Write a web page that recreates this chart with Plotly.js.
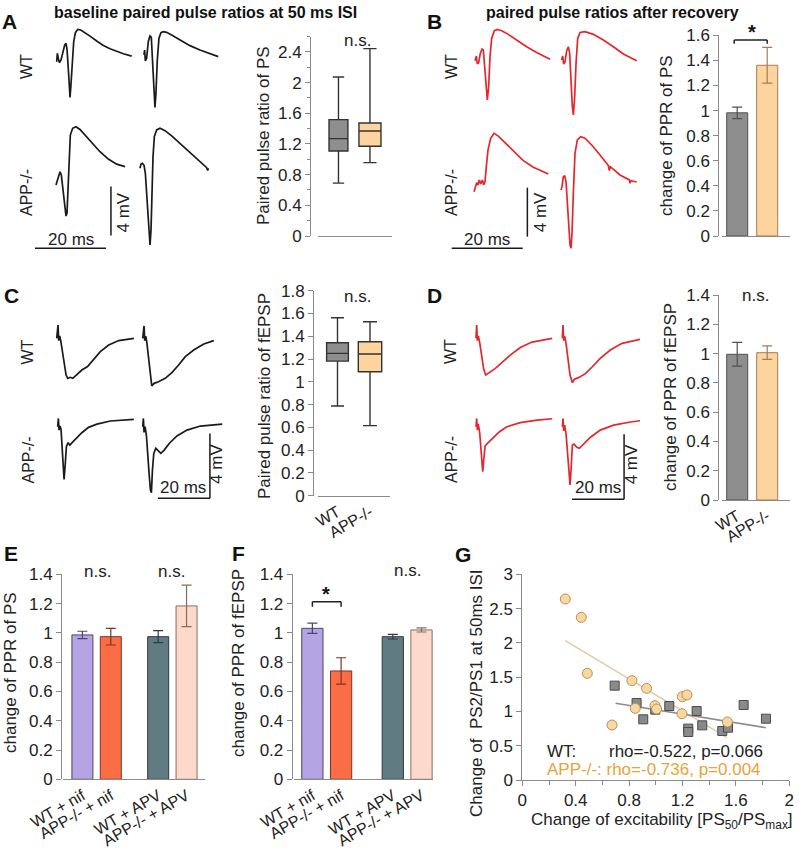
<!DOCTYPE html>
<html>
<head>
<meta charset="utf-8">
<script src="https://cdn.plot.ly/plotly-3.0.1.min.js"></script>
<style>
  body { margin: 0; background: #fff; }
  #fig { width: 799px; height: 853px; }
</style>
</head>
<body>
<div id="fig"></div>
<script>
// ---------- example sweeps (time in ms, voltage in mV from sweep start) ----------
// A: population spikes, baseline (black)
const aWt1T = [0,0.19,0.47,0.75,1.22,1.69,2.25,2.63,2.91,3.29,3.57,3.76,4.04,4.41,4.79,5.26,5.92,6.76,7.98,9.39,11.27,13.15,15.02,16.9,18.78,21.13];
const aWt1V = [0,0.68,0.27,-0.08,0.14,0.82,1.36,1.5,1.01,-0.68,-2.31,-2.91,-1.77,0.14,1.63,2.37,2.64,2.59,2.39,2.09,1.69,1.33,1.06,0.84,0.65,0.46];
const aWt2T = [0,0.19,0.38,0.75,1.22,1.69,2.07,2.44,2.82,3.1,3.38,3.76,4.23,4.79,5.45,6.38,7.79,10.14,12.96,15.77,18.59,20.94];
const aWt2V = [0.14,0.54,-0.33,-0.14,1.22,1.69,1.58,-0.54,-3.27,-4.14,-3.0,-0.27,1.5,1.96,2.04,1.99,1.77,1.36,0.9,0.54,0.22,0];
const aApp1T = [0,0.38,0.75,1.13,1.5,1.88,2.35,2.82,3.1,3.38,3.66,4.04,4.69,5.63,6.76,8.17,10.05,12.39,14.74,17.09,19.44];
const aApp1V = [0,0.41,0.9,1.09,0.82,-0.14,-1.5,-2.53,-2.31,-0.14,2.59,4.08,4.63,4.76,4.54,4.08,3.45,2.72,2.12,1.71,1.5];
const aApp2T = [0,0.28,0.66,1.13,1.5,1.88,2.25,2.63,2.82,3.1,3.38,3.66,4.04,4.69,5.63,7.04,8.92,11.27,14.08,16.9,18.78,19.06,19.25];
const aApp2V = [0,0.35,0.41,0.24,-0.41,-2.04,-4.22,-5.85,-6.26,-5.03,-2.04,0.95,2.59,3.13,3.27,3.07,2.64,2.04,1.28,0.54,0.05,-0.19,0];

// B: population spikes after recovery (red)
const bWt1T = [0,0.38,0.66,1.03,1.5,1.97,2.35,2.72,3.1,3.47,3.85,4.23,4.69,5.45,6.29,7.51,9.39,11.74,14.55,17.37,21.13];
const bWt1V = [0.08,0.46,-0.19,-0.08,0.68,1.03,0.95,-0.41,-2.04,-3.13,-2.04,0.41,1.9,2.53,2.64,2.53,2.23,1.77,1.22,0.76,0.19];
const bWt2T = [0,0.28,0.56,0.94,1.41,1.88,2.25,2.63,3.0,3.29,3.66,4.04,4.51,5.16,6.57,8.92,11.74,14.55,17.37,21.13];
const bWt2V = [0.14,0.46,-0.19,0,0.9,1.22,0.68,-1.77,-3.67,-4.35,-2.86,-0.14,1.9,2.39,2.45,2.23,1.77,1.22,0.63,0.08];
const bApp1T = [0,0.38,0.75,1.13,1.5,1.88,2.35,2.72,3.1,3.47,3.94,4.69,5.63,6.85,8.73,11.08,13.9,16.71,20.94];
const bApp1V = [0,0.41,0.73,0.54,0.95,0.63,0.95,0.54,0.82,2.04,3.4,4.35,4.76,4.54,4.0,3.27,2.53,1.99,1.44];
const bApp2T = [0,0.28,0.66,1.03,1.41,1.78,2.16,2.54,2.82,3.1,3.47,3.94,4.6,5.54,6.76,8.64,10.99,13.33,13.62,13.9,16.62,19.25,19.44,19.62,21.31];
const bApp2V = [0,0.27,1.09,1.14,0.68,-0.82,-2.99,-4.49,-4.76,-3.54,-0.27,2.99,4.08,4.35,4.22,3.67,2.86,1.99,1.58,1.9,1.22,0.82,0.54,0.76,0.65];

// C: fEPSPs, baseline (black)
const cWt1T = [0,0.26,0.52,0.77,1.16,1.55,2.19,2.97,3.61,4.26,5.16,6.19,7.48,9.68,11.87,14.19,16.77,20.0,23.87,29.68];
const cWt1V = [0,0.72,0.82,-0.14,0.14,-0.14,-0.72,-1.64,-2.26,-2.46,-2.4,-2.46,-2.26,-1.95,-1.74,-1.29,-0.82,-0.41,-0.14,0];
const cWt2T = [0,0.26,0.52,0.77,1.16,1.55,2.19,2.84,3.48,4.39,6.06,8.65,11.23,13.81,16.39,19.61,23.48,27.35];
const cWt2V = [0,0.72,0.76,-0.14,0.14,-0.21,-1.23,-2.36,-2.93,-2.77,-2.67,-2.46,-2.11,-1.64,-1.13,-0.72,-0.35,-0.14];
const cApp1T = [0,0.26,0.52,0.9,1.29,1.68,2.06,2.45,2.84,3.35,4.0,4.65,5.55,7.1,9.29,11.87,15.1,20.26,29.29];
const cApp1V = [0,0.51,-0.21,0.04,-0.16,-1.23,-2.46,-3.24,-2.46,-1.23,-0.98,-1.13,-0.98,-0.72,-0.37,-0.04,0.16,0.35,0.45];
const cApp2T = [0,0.26,0.52,0.9,1.42,1.94,2.45,2.97,3.35,3.74,4.26,5.03,5.94,6.97,8.26,10.19,13.16,17.03,22.19,30.58];
const cApp2V = [0,0.51,-0.35,0,-0.51,-1.44,-2.87,-3.9,-4.06,-2.67,-1.64,-1.33,-1.48,-1.64,-1.44,-1.03,-0.57,-0.21,0.04,0.16];

// D: fEPSPs after recovery (red)
const dWt1T = [0,0.26,0.52,0.9,1.42,2.19,2.97,3.74,4.39,5.42,7.35,9.94,13.16,17.03,21.55,29.29];
const dWt1V = [0,0.82,-0.14,0.14,-0.27,-1.09,-1.91,-2.26,-2.19,-2.11,-1.87,-1.5,-1.03,-0.57,-0.23,0];
const dWt2T = [0,0.26,0.52,0.9,1.42,2.19,2.97,3.87,4.65,6.19,8.77,11.35,14.58,18.45,22.97,30.06];
const dWt2V = [0,0.82,-0.14,0.14,-0.31,-1.29,-2.26,-2.73,-2.52,-2.42,-2.19,-1.78,-1.23,-0.72,-0.31,-0.06];
const dApp1T = [0,0.26,0.52,0.9,1.42,1.81,2.19,2.58,2.97,3.48,4.39,5.42,6.97,9.03,11.87,17.03,23.48,29.29];
const dApp1V = [0,0.51,-0.21,0.16,-0.37,-1.23,-2.36,-2.77,-2.05,-1.19,-1.03,-0.88,-0.62,-0.31,0,0.25,0.41,0.49];
const dApp2T = [0,0.26,0.52,0.9,1.42,1.94,2.45,2.97,3.35,3.87,4.52,5.55,6.58,8.13,10.71,14.58,19.74,26.19,30.06];
const dApp2V = [0,0.51,-0.25,0.1,-0.41,-1.64,-2.97,-3.59,-2.67,-1.13,-1.07,-1.27,-1.33,-1.07,-0.66,-0.21,0.1,0.29,0.37];

// scale bars
const scaleMs = 20;
const scaleMv = 4;

// ---------- summary data ----------
const genotypes = ['WT', 'APP-/-'];

// A: paired pulse ratio of PS (box stats)
const psLow = [0.69, 0.957];
const psQ1 = [1.109, 1.17];
const psMed = [1.27, 1.37];
const psQ3 = [1.517, 1.474];
const psHigh = [2.074, 2.443];

// B: change of PPR of PS
const psChange = [0.982, 1.361];
const psChangeErr = [0.046, 0.142];

// C: paired pulse ratio of fEPSP (box stats)
const epLow = [0.787, 0.615];
const epQ1 = [1.182, 1.089];
const epMed = [1.25, 1.244];
const epQ3 = [1.343, 1.352];
const epHigh = [1.563, 1.528];

// D: change of PPR of fEPSP
const epChange = [0.995, 1.006];
const epChangeErr = [0.081, 0.046];

// E / F: drug groups
const drugGroups = ['WT + nif', 'APP-/- + nif', 'WT + APV', 'APP-/- + APV'];
const drugPs = [0.986, 0.974, 0.974, 1.184];
const drugPsErr = [0.025, 0.057, 0.041, 0.142];
const drugEp = [1.031, 0.74, 0.974, 1.02];
const drugEpErr = [0.035, 0.09, 0.016, 0.014];

// G: correlation
const wtExc = [0.692, 0.856, 0.906, 0.996, 1.101, 1.243, 1.243, 1.306, 1.348, 1.498, 1.541, 1.658, 1.825];
const wtPpr = [1.376, 1.123, 0.885, 1.026, 1.079, 0.749, 0.70, 1.006, 0.797, 0.715, 0.763, 1.094, 0.894];
const appExc = [0.322, 0.442, 0.487, 0.672, 0.821, 0.846, 0.931, 0.994, 1.006, 1.199, 1.196, 1.233, 1.536];
const appPpr = [2.64, 2.372, 1.556, 0.802, 1.449, 1.045, 1.337, 1.084, 1.035, 1.215, 0.967, 1.24, 0.846];
const wtFitX = [0.699, 1.825];
const wtFitY = [1.118, 0.763];
const appFitX = [0.322, 1.533];
const appFitY = [2.032, 0.617];

// ---------- helpers ----------
const W = 799, H = 853;
const fx = px => px / W;
const fy = py => 1 - py / H;
const FONT = 'Liberation Sans, Arial, sans-serif';
const AXC = '#8a8a8a';
const BLACK = '#1a1a1a';
const RED = '#e3272d';

const layout = {
    width: W, height: H,
    margin: { l: 0, r: 0, t: 0, b: 0 },
    paper_bgcolor: '#fff', plot_bgcolor: 'rgba(0,0,0,0)',
    showlegend: false, hovermode: false,
    barmode: 'overlay',
    font: { family: FONT, size: 17, color: '#222' },
    shapes: [], annotations: []
};
const traces = [];

function hiddenAxes(n, left, right, top, bottom, xMax, yMax) {
    layout['xaxis' + n] = { domain: [fx(left), fx(right)], range: [0, xMax], visible: false, fixedrange: true, anchor: 'y' + n };
    layout['yaxis' + n] = { domain: [fy(bottom), fy(top)], range: [0, yMax], visible: false, fixedrange: true, anchor: 'x' + n };
}

function valueAxis(n, top, bottom, xPos, max, dtick, minor) {
    const ax = {
        domain: [fy(bottom), fy(top)], range: [0, max], anchor: 'free', position: fx(xPos),
        showline: true, linecolor: AXC, linewidth: 1, ticks: 'outside', ticklen: 5, tickcolor: AXC,
        dtick: dtick, tick0: 0, showgrid: false, zeroline: false, fixedrange: true,
        tickfont: { size: 17, color: '#222' }
    };
    if (minor) ax.minor = { dtick: minor, ticks: 'outside', ticklen: 3, tickcolor: AXC, showgrid: false };
    layout['yaxis' + n] = ax;
}

function groupAxis(n, left, right, range, extra) {
    layout['xaxis' + n] = Object.assign({
        domain: [fx(left), fx(right)], range: range, anchor: 'y' + n,
        showline: true, linecolor: AXC, linewidth: 1, ticks: '', showgrid: false, zeroline: false,
        fixedrange: true, tickangle: -30, tickfont: { size: 16, color: '#222' }
    }, extra);
}

function sweep(t, v, off, color, n) {
    traces.push({
        x: t.map(d => d + off[0]), y: v.map(d => d + off[1]),
        mode: 'lines', line: { color: color, width: 1.7 },
        xaxis: 'x' + n, yaxis: 'y' + n, hoverinfo: 'skip'
    });
}

function scaleBars(n, tx, vy, hx, hy, color, msLab, mvLab) {
    const ref = { xref: 'x' + n, yref: 'y' + n };
    const txt = { showarrow: false, xanchor: 'center', yanchor: 'middle', font: { size: 17 } };
    layout.shapes.push(Object.assign({ type: 'line', x0: tx, x1: tx, y0: vy, y1: vy + scaleMv, line: { color: color, width: 1.5 } }, ref));
    layout.shapes.push(Object.assign({ type: 'line', x0: hx, x1: hx + scaleMs, y0: hy, y1: hy, line: { color: color, width: 1.5 } }, ref));
    layout.annotations.push(Object.assign({ text: scaleMs + ' ms', x: msLab[0], y: msLab[1] }, ref, txt));
    layout.annotations.push(Object.assign({ text: scaleMv + ' mV', x: mvLab[0], y: mvLab[1], textangle: -90 }, ref, txt));
}

function note(text, xpx, ypx, opts) {
    layout.annotations.push(Object.assign({
        text: text, x: fx(xpx), y: fy(ypx), xref: 'paper', yref: 'paper',
        xanchor: 'center', yanchor: 'middle',
        showarrow: false, font: { size: 17, color: '#222' }
    }, opts || {}));
}

function boxes(n, stats, widths, fills) {
    genotypes.forEach((g, i) => {
        traces.push({
            type: 'box', x: [g], q1: [stats.q1[i]], median: [stats.med[i]], q3: [stats.q3[i]],
            lowerfence: [stats.lo[i]], upperfence: [stats.hi[i]],
            width: widths[i], whiskerwidth: 0.6, boxpoints: false,
            fillcolor: fills[i], line: { color: '#333', width: 1.4 },
            xaxis: 'x' + n, yaxis: 'y' + n, hoverinfo: 'skip'
        });
    });
}

function bars(n, xs, vals, errs, fills, edges, width) {
    vals.forEach((v, i) => {
        traces.push({
            type: 'bar', x: [xs[i]], y: [v], width: width,
            marker: { color: fills[i], line: { color: edges[i], width: 1 } },
            error_y: { type: 'data', array: [errs[i]], color: edges[i], thickness: 1.2, width: 5 },
            xaxis: 'x' + n, yaxis: 'y' + n, hoverinfo: 'skip'
        });
    });
}

// significance bracket: horizontal line with two short legs
function bracket(n, x0, x1, y, drop) {
    const ref = { type: 'line', xref: 'x' + n, yref: 'y' + n, line: { color: '#222', width: 1.5 } };
    layout.shapes.push(Object.assign({ x0: x0, x1: x1, y0: y, y1: y }, ref));
    layout.shapes.push(Object.assign({ x0: x0, x1: x0, y0: y - drop, y1: y }, ref));
    layout.shapes.push(Object.assign({ x0: x1, x1: x1, y0: y - drop, y1: y }, ref));
}

const boxFills = ['#8e8e8e', '#fdd49e'];
const barFills = ['#8e8e8e', '#fdd49e'];
const barEdges = ['#505050', '#a07d58'];
const drugFills = ['#b4a4e4', '#fb6e45', '#617b82', '#fdd9cc'];
const drugEdges = ['#4d4470', '#7a3424', '#2f3b3e', '#8a6a60'];

// ---------- A ----------
hiddenAxes(1, 30, 230, 25, 255, 200 / 3.55, 230 / 12.25);
sweep(aWt1T, aWt1V, [7.52, 15.78], BLACK, 1);
sweep(aWt2T, aWt2V, [32.1, 16.19], BLACK, 1);
sweep(aApp1T, aApp1V, [7.32, 5.71], BLACK, 1);
sweep(aApp2T, aApp2V, [30.99, 7.08], BLACK, 1);
scaleBars(1, 22.8, 1.6, 1.4, 0.55, BLACK, [11.5, 1.3], [26.3, 3.5]);

valueAxis(2, 36.6, 236, 310, 2.6, 0.4, 0.2);
groupAxis(2, 318, 392, [-0.65, 1.7], { type: 'category', categoryarray: genotypes, showticklabels: false });
boxes(2, { lo: psLow, q1: psQ1, med: psMed, q3: psQ3, hi: psHigh }, [0.6, 0.7], boxFills);

// ---------- B ----------
hiddenAxes(3, 445, 645, 25, 255, 200 / 3.55, 230 / 12.25);
sweep(bWt1T, bWt1V, [8.45, 15.78], RED, 3);
sweep(bWt2T, bWt2V, [32.87, 15.78], RED, 3);
sweep(bApp1T, bApp1V, [8.17, 5.17], RED, 3);
sweep(bApp2T, bApp2V, [32.68, 5.31], RED, 3);
scaleBars(3, 23.2, 1.5, 1.9, 0.55, BLACK, [11.9, 1.25], [26.8, 3.5]);

valueAxis(4, 35.3, 236, 718.3, 1.6, 0.2);
groupAxis(4, 722, 790, [-0.507, 1.76], { type: 'category', categoryarray: genotypes, showticklabels: false });
bars(4, genotypes, psChange, psChangeErr, barFills, barEdges, 0.7);
bracket(4, -0.1, 1.0, 1.563, 0.03);

// ---------- C ----------
hiddenAxes(5, 30, 230, 290, 500, 200 / 2.6, 210 / 16.25);
sweep(cWt1T, cWt1V, [10.27, 9.95], BLACK, 5);
sweep(cWt2T, cWt2V, [43.35, 9.95], BLACK, 5);
sweep(cApp1T, cApp1V, [10.65, 4.51], BLACK, 5);
sweep(cApp2T, cApp2V, [43.35, 4.51], BLACK, 5);
scaleBars(5, 69.2, 0.1, 49.2, 0.1, BLACK, [58.7, 0.8], [71.8, 2.2]);

valueAxis(6, 290.7, 495.7, 313, 1.8, 0.2);
groupAxis(6, 318, 390, [-0.6, 1.615], { type: 'category', categoryarray: genotypes });
boxes(6, { lo: epLow, q1: epQ1, med: epMed, q3: epQ3, hi: epHigh }, [0.67, 0.72], boxFills);

// ---------- D ----------
hiddenAxes(7, 440, 640, 290, 500, 200 / 2.6, 210 / 16.25);
sweep(dWt1T, dWt1V, [13.85, 9.95], RED, 7);
sweep(dWt2T, dWt2V, [47.05, 9.95], RED, 7);
sweep(dApp1T, dApp1V, [13.85, 4.51], RED, 7);
sweep(dApp2T, dApp2V, [47.05, 4.51], RED, 7);
scaleBars(7, 70.8, 0.05, 50.8, 0.05, BLACK, [60.9, 0.8], [73.5, 2.2]);

valueAxis(8, 295, 500, 718.3, 1.4, 0.2);
groupAxis(8, 722, 790, [-0.507, 1.76], { type: 'category', categoryarray: genotypes });
bars(8, genotypes, epChange, epChangeErr, barFills, barEdges, 0.7);

// ---------- E ----------
const ePos = [0, 1, 2.67, 3.67];
valueAxis(9, 574.3, 779.3, 61, 1.4, 0.2);
groupAxis(9, 63, 205, [-0.684, 4.32], { tickvals: ePos, ticktext: drugGroups });
bars(9, ePos, drugPs, drugPsErr, drugFills, drugEdges, 0.74);

// ---------- F ----------
const fPos = [0, 1, 2.8, 3.8];
valueAxis(10, 574.3, 779.3, 291.7, 1.4, 0.2);
groupAxis(10, 294, 433, [-0.64, 4.2], { tickvals: fPos, ticktext: drugGroups });
bars(10, fPos, drugEp, drugEpErr, drugFills, drugEdges, 0.74);
bracket(10, 0, 1, 1.213, 0.035);

// ---------- G ----------
layout.xaxis11 = {
    domain: [fx(522.3), fx(789.3)], range: [0, 2], anchor: 'y11',
    showline: true, linecolor: AXC, ticks: 'outside', ticklen: 5, tickcolor: AXC,
    dtick: 0.4, tick0: 0, minor: { dtick: 0.2, ticks: 'outside', ticklen: 4, tickcolor: AXC },
    showgrid: false, zeroline: false, fixedrange: true, tickfont: { size: 17, color: '#222' }
};
layout.yaxis11 = {
    domain: [fy(780), fy(574.3)], range: [0, 3], anchor: 'x11',
    showline: true, linecolor: AXC, ticks: 'outside', ticklen: 5, tickcolor: AXC,
    dtick: 0.5, tick0: 0, showgrid: false, zeroline: false, fixedrange: true,
    tickfont: { size: 17, color: '#222' }
};
traces.push({ x: appFitX, y: appFitY, mode: 'lines', line: { color: '#e6c9a0', width: 1.5 }, xaxis: 'x11', yaxis: 'y11', hoverinfo: 'skip' });
traces.push({ x: wtFitX, y: wtFitY, mode: 'lines', line: { color: '#8c8c8c', width: 1.5 }, xaxis: 'x11', yaxis: 'y11', hoverinfo: 'skip' });
traces.push({
    x: wtExc, y: wtPpr, mode: 'markers',
    marker: { symbol: 'square', size: 9, color: '#8a8a8a', line: { color: '#4a4a4a', width: 1 } },
    xaxis: 'x11', yaxis: 'y11', hoverinfo: 'skip'
});
traces.push({
    x: appExc, y: appPpr, mode: 'markers',
    marker: { symbol: 'circle', size: 10, color: '#f8d7a0', line: { color: '#b8905a', width: 1 } },
    xaxis: 'x11', yaxis: 'y11', hoverinfo: 'skip'
});

// ---------- text ----------
const bold = { size: 16, color: '#111' };
note('<b>baseline paired pulse ratios at 50 ms ISI</b>', 205, 12, { font: bold });
note('<b>paired pulse ratios after recovery</b>', 612, 12, { font: bold });
[['A', 9, 21], ['B', 434, 21], ['C', 11, 296], ['D', 434, 296], ['E', 11, 553], ['F', 239, 553], ['G', 463, 554]]
    .forEach(p => note('<b>' + p[0] + '</b>', p[1], p[2], { font: { size: 21, color: '#111' } }));

// row labels next to sweeps
[[27, 67, 'WT'], [27, 193, 'APP-/-'], [452, 67, 'WT'], [452, 193, 'APP-/-'],
 [27.5, 352, 'WT'], [27.5, 460, 'APP-/-'], [451, 352, 'WT'], [451, 460, 'APP-/-']]
    .forEach(p => note(p[2], p[0], p[1], { textangle: -90, font: { size: 16, color: '#222' } }));

// axis titles
note('Paired pulse ratio of PS', 263, 136, { textangle: -90 });
note('change of PPR of PS', 666, 136, { textangle: -90 });
note('Paired pulse ratio of fEPSP', 264, 396, { textangle: -90 });
note('change of PPR of fEPSP', 670, 397, { textangle: -90 });
note('change of PPR of PS', 10, 673, { textangle: -90 });
note('change of PPR of fEPSP', 238, 663, { textangle: -90 });
note('Change of  PS2/PS1 at 50ms ISI', 476, 693, { textangle: -90 });
note('Change of excitability [PS<sub>50</sub>/PS<sub>max</sub>]', 662, 808, { yanchor: 'top' });

// significance marks
note('n.s.', 357, 40);
note('<b>*</b>', 752, 32, { font: { size: 20, color: '#111' } });
note('n.s.', 357, 297);
note('n.s.', 755, 296);
note('n.s.', 97, 571);
note('n.s.', 171, 571);
note('<b>*</b>', 326, 594, { font: { size: 20, color: '#111' } });
note('n.s.', 407, 570);

// correlation stats
note('WT:', 545, 751, { xanchor: 'left' });
note('rho=-0.522, p=0.066', 606.7, 751, { xanchor: 'left' });
note('APP-/-: rho=-0.736, p=0.004', 545, 769.5, { xanchor: 'left', font: { size: 17, color: '#e8a23c' } });

Plotly.newPlot('fig', traces, layout, { staticPlot: true, displayModeBar: false });
</script>
</body>
</html>
